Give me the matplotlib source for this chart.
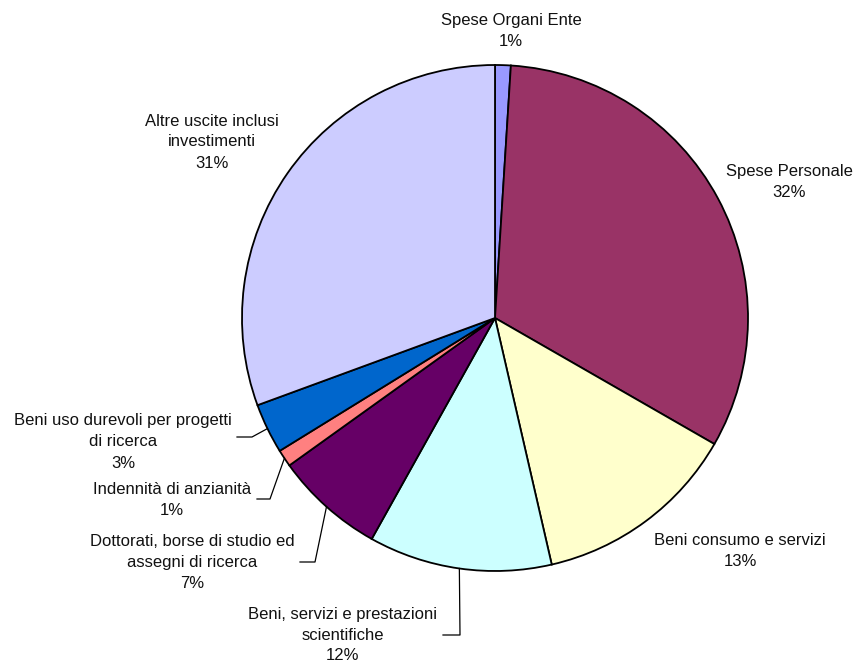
import numpy as np
import matplotlib.pyplot as plt

plt.rcParams['font.family'] = ['Liberation Sans', 'DejaVu Sans']

labels = ["Spese Organi Ente", "Spese Personale", "Beni consumo e servizi",
          "Beni, servizi e prestazioni\nscientifiche",
          "Dottorati, borse di studio ed\nassegni di ricerca",
          "Indennità di anzianità", "Beni uso durevoli per progetti\ndi ricerca",
          "Altre uscite inclusi\ninvestimenti"]
values = [1.0, 32.3, 13.1, 11.7, 7.0, 1.1, 3.2, 30.6]
colors = ["#9999FF", "#993366", "#FFFFCC", "#CCFFFF",
          "#660066", "#FF8080", "#0066CC", "#CCCCFF"]

# label text centres (pixels from top-left) and leader line x-range
label_pos = [(511, 31), (789, 182), (740, 551), (343, 635),
             (192, 563), (172, 500), (123, 442), (212, 142)]
leader = [None, None, None, (443, 460, 635), (300, 315, 562),
          (257, 270, 499), (237, 252, 437), None]

W, H = 856, 666
fig = plt.figure(figsize=(W / 100, H / 100), dpi=100)
ax = fig.add_axes([0, 0, 1, 1])

cx, cy, r = 495, H - 318, 253
wedges, _ = ax.pie(values, colors=colors, startangle=90, counterclock=False,
                   center=(cx, cy), radius=r,
                   wedgeprops=dict(edgecolor='black', linewidth=1.3))

total = sum(values)
for w, lab, v, (tx, ty), ld in zip(wedges, labels, values, label_pos, leader):
    ax.text(tx, H - ty, f"{lab}\n{v / total * 100:.0f}%", ha='center', va='center',
            fontsize=12, linespacing=1.5, color='#111111')
    if ld is not None:
        a = np.deg2rad((w.theta1 + w.theta2) / 2)
        ex, ey = cx + r * np.cos(a), cy + r * np.sin(a)
        x0, x1, ly = ld
        ax.plot([x0, x1, ex], [H - ly, H - ly, ey], color='black', linewidth=0.9)

ax.set_xlim(0, W)
ax.set_ylim(0, H)
ax.set_aspect('equal')
ax.axis('off')

fig.savefig('out.png', dpi=100, facecolor='white')
